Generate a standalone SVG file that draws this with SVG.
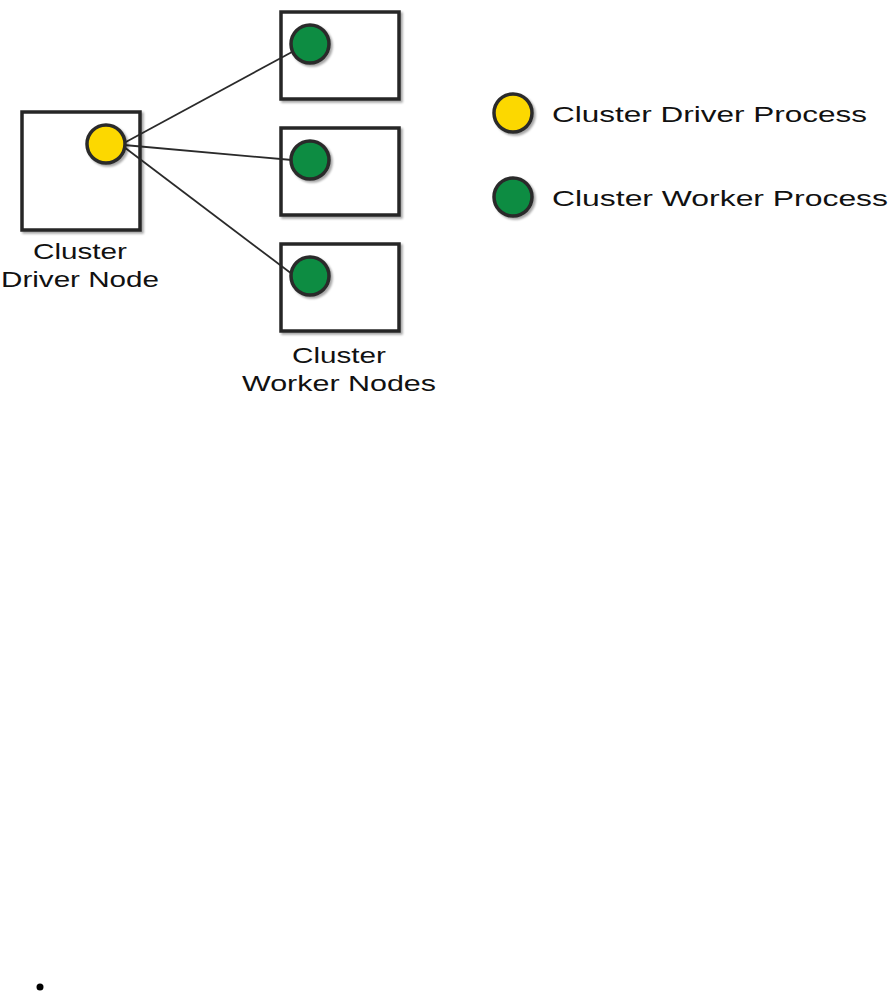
<svg xmlns="http://www.w3.org/2000/svg" width="890" height="992" viewBox="0 0 890 992">
<defs>
<filter id="sh" x="-20%" y="-20%" width="150%" height="150%">
<feDropShadow dx="2" dy="2" stdDeviation="1.2" flood-color="#000" flood-opacity="0.35"/>
</filter>
<style>
.box{fill:#fff;stroke:#262626;stroke-width:3.5;filter:url(#sh)}
.drv{fill:#FCD800;stroke:#2a2a2a;stroke-width:3.5;filter:url(#sh)}
.wrk{fill:#0B8C42;stroke:#2a2a2a;stroke-width:3.5;filter:url(#sh)}
.lbl{font-family:"Liberation Sans",Arial,sans-serif;font-size:22px;fill:#111}
.conn{stroke:#2a2a2a;stroke-width:1.8;fill:none}
</style>
</defs>
<rect width="890" height="992" fill="#fff"/>
<g id="driver-node">
<rect class="box" x="22" y="112" width="118" height="118"/>
<text class="lbl" x="80" y="259" text-anchor="middle" textLength="94" lengthAdjust="spacingAndGlyphs">Cluster</text>
<text class="lbl" x="80" y="287" text-anchor="middle" textLength="158" lengthAdjust="spacingAndGlyphs">Driver Node</text>
</g>
<g id="worker-1">
<rect class="box" x="281" y="12" width="118" height="87"/>
</g>
<g id="worker-2">
<rect class="box" x="281" y="128" width="118" height="87"/>
</g>
<g id="worker-3">
<rect class="box" x="281" y="244" width="118" height="87"/>
</g>
<g id="connectors">
<line class="conn" x1="124" y1="143" x2="292" y2="52"/>
<line class="conn" x1="124" y1="145" x2="292" y2="160"/>
<line class="conn" x1="124" y1="147" x2="292" y2="274"/>
</g>
<g id="processes">
<circle class="drv" cx="106" cy="144" r="19"/>
<circle class="wrk" cx="310" cy="44" r="19"/>
<circle class="wrk" cx="310" cy="160" r="19"/>
<circle class="wrk" cx="310" cy="276" r="19"/>
</g>
<g id="worker-label">
<text class="lbl" x="339" y="363" text-anchor="middle" textLength="94" lengthAdjust="spacingAndGlyphs">Cluster</text>
<text class="lbl" x="339" y="391" text-anchor="middle" textLength="194" lengthAdjust="spacingAndGlyphs">Worker Nodes</text>
</g>
<g id="legend-driver">
<circle class="drv" cx="513" cy="113" r="19"/>
<text class="lbl" x="552" y="122" textLength="315" lengthAdjust="spacingAndGlyphs">Cluster Driver Process</text>
</g>
<g id="legend-worker">
<circle class="wrk" cx="513" cy="197" r="19"/>
<text class="lbl" x="552" y="206" textLength="336" lengthAdjust="spacingAndGlyphs">Cluster Worker Process</text>
</g>
<circle id="bullet" cx="40" cy="987" r="3.5" fill="#000"/>
</svg>
